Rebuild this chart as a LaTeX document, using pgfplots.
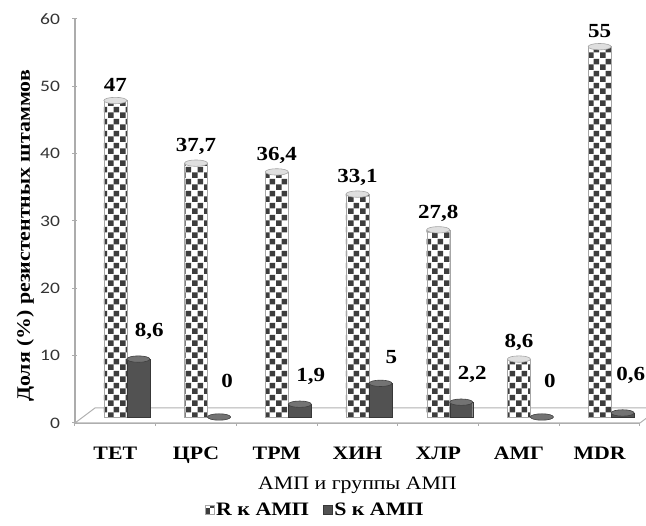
\documentclass[border=0pt]{standalone}
\usepackage{fontspec}
\setmainfont[FakeStretch=1.15]{Liberation Serif}
\newfontfamily\calibri[FakeStretch=1.22]{Carlito}
\usepackage{pgfplots}
\pgfplotsset{compat=1.18}
\usetikzlibrary{patterns.meta}

\tikzdeclarepattern{
  name=chk,
  type=uncolored,
  bottom left={(0pt,0pt)},
  top right={(12pt,12pt)},
  tile size={(12pt,12pt)},
  code={
    \fill (0pt,0pt) rectangle (6pt,6pt);
    \fill (6pt,6pt) rectangle (12pt,12pt);
  }
}
\pgfdeclareplotmark{topell}{%
  \pgfpathellipse{\pgfpointorigin}{\pgfqpoint{11.5pt}{0pt}}{\pgfqpoint{0pt}{3.2pt}}%
  \pgfusepathqfillstroke}

\begin{document}
\begin{tikzpicture}
\begin{axis}[
  name=ax,
  scale only axis, width=565pt, height=404pt,
  xmin=-0.5, xmax=6.5, ymin=0, ymax=60,
  clip=false,
  ybar, bar width=23pt,
  ytick={0,10,...,60},
  xtick={0,...,6},
  xticklabels={ТЕТ,ЦРС,ТРМ,ХИН,ХЛР,АМГ,MDR},
  minor xtick={-0.5,0.5,...,6.5},
  major x tick style={draw=none},
  minor tick length=6pt,
  major tick length=5pt,
  tick align=outside,
  axis x line=bottom, axis y line=left,
  x axis line style={-}, y axis line style={-},
  axis line style={draw=gray!65, line width=1.2pt},
  tick style={draw=gray!65, line width=1pt},
  y tick label style={font=\calibri\fontsize{16}{18}\selectfont, text=black!80, xshift=-9pt},
  x tick label style={font=\fontsize{19}{22}\selectfont\bfseries, yshift=-18pt},
  /pgf/number format/assume math mode=true,
  /pgf/number format/use comma,
  ylabel={Доля (\%) резистентных штаммов},
  every axis y label/.style={at={(axis description cs:-0.088,0.463)}, rotate=90, anchor=center, font=\fontsize{19}{22}\selectfont\bfseries},
  xlabel={АМП и группы АМП},
  every axis x label/.style={at={(axis description cs:0.5,0)}, anchor=center, yshift=-62pt, font=\fontsize{19}{22}\selectfont},
  legend style={at={(axis description cs:0.425,-0.215)}, anchor=center, draw=none, fill=none,
    legend columns=2, font=\fontsize{19}{22}\selectfont\bfseries,
    /tikz/every even column/.append style={column sep=12pt}},
  legend image code/.code={\draw[#1, yshift=-6pt] (0pt,-4.5pt) rectangle (9pt,4.5pt);},
]
% floor
\draw[gray!60, line width=1pt, fill=white] (axis cs:-0.5,0) -- ++(20pt,15pt) -- ([shift={(20pt,15pt)}]axis cs:6.5,0) -- (axis cs:6.5,0) -- cycle;

% R bars
\addplot[yshift=6pt, bar shift=0pt, draw=gray!70, fill=white,
  postaction={pattern={chk}, pattern color=black!76}]
  coordinates {(0,47) (1,37.7) (2,36.4) (3,33.1) (4,27.8) (5,8.6) (6,55)};
\addlegendentry{R к АМП}
% S bars
\addplot[yshift=6pt, bar shift=23pt, draw=black!78, fill=black!68]
  coordinates {(0,8.6) (1,0) (2,1.9) (3,5) (4,2.2) (5,0) (6,0.6)};
\addlegendentry{S к АМП}

% tops + labels
\addplot[yshift=6pt, forget plot, bar shift=0pt, draw=none, fill=none, mark=topell,
  mark options={fill=gray!25, draw=gray!70, line width=0.6pt},
  nodes near coords,
  every node near coord/.append style={font=\fontsize{20}{23}\selectfont\bfseries, text=black, yshift=5pt}]
  coordinates {(0,47) (1,37.7) (2,36.4) (3,33.1) (4,27.8) (5,8.6) (6,55)};
\addplot[yshift=6pt, forget plot, bar shift=23pt, draw=none, fill=none, mark=topell,
  mark options={xshift=23pt, fill=black!55, draw=black!75, line width=0.6pt},
  nodes near coords,
  every node near coord/.append style={font=\fontsize{20}{23}\selectfont\bfseries, text=black, yshift=16pt, xshift=-12pt}]
  coordinates {(0,8.6) (2,1.9) (3,5) (4,2.2)};
\addplot[yshift=6pt, forget plot, bar shift=23pt, draw=none, fill=none, mark=topell,
  mark options={xshift=23pt, fill=black!55, draw=black!75, line width=0.6pt},
  nodes near coords,
  every node near coord/.append style={font=\fontsize{20}{23}\selectfont\bfseries, text=black, yshift=26pt, xshift=-15pt}]
  coordinates {(1,0) (5,0) (6,0.6)};
\end{axis}
\pgfresetboundingbox
\path[use as bounding box] ([shift={(-75pt,-103pt)}]ax.south west) rectangle ++(646pt,526pt);
\end{tikzpicture}
\end{document}
